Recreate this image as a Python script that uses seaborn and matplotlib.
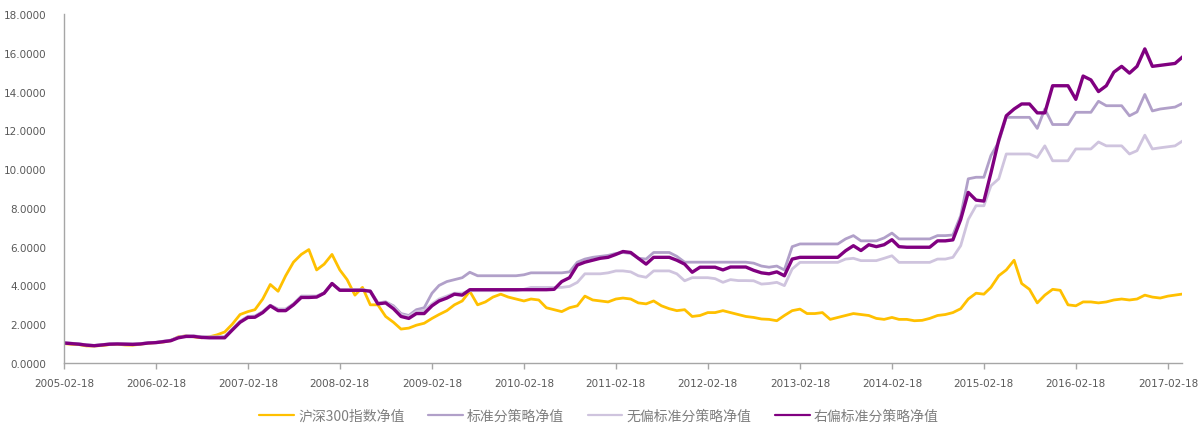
import numpy as np
import pandas as pd
import matplotlib
matplotlib.use("Agg")
import matplotlib.pyplot as plt
from matplotlib.ticker import FormatStrFormatter
import seaborn as sns

# ---------------- data (monthly readings, 18th of each month) ----------------
dates = pd.date_range("2005-02-01", "2017-04-01", freq="MS") + pd.Timedelta(days=17)

hs300 = [
    1.00, 0.97, 0.95, 0.88, 0.88, 0.90, 0.95, 0.97, 0.93, 0.92, 0.97,
    1.02, 1.05, 1.08, 1.15, 1.35, 1.40, 1.35, 1.30, 1.35, 1.45, 1.60, 2.00,
    2.50, 2.65, 2.75, 3.30, 4.05, 3.70, 4.50, 5.20, 5.60, 5.85, 4.80, 5.10,
    5.60, 4.80, 4.30, 3.50, 3.90, 3.00, 3.00, 2.40, 2.10, 1.75, 1.80, 1.95,
    2.05, 2.30, 2.50, 2.70, 3.00, 3.20, 3.70, 3.00, 3.15, 3.40, 3.55, 3.40,
    3.30, 3.20, 3.30, 3.25, 2.85, 2.75, 2.65, 2.85, 2.95, 3.45, 3.25, 3.20,
    3.15, 3.30, 3.35, 3.30, 3.10, 3.05, 3.20, 2.95, 2.80, 2.70, 2.75, 2.40,
    2.45, 2.60, 2.60, 2.70, 2.60, 2.50, 2.40, 2.35, 2.27, 2.25, 2.18, 2.45,
    2.70, 2.78, 2.55, 2.55, 2.60, 2.25, 2.35, 2.45, 2.55, 2.50, 2.45, 2.30,
    2.25, 2.35, 2.25, 2.25, 2.18, 2.20, 2.30, 2.45, 2.50, 2.60, 2.80, 3.30,
    3.60, 3.55, 3.90, 4.50, 4.80, 5.30, 4.10, 3.80, 3.10, 3.50, 3.80, 3.75,
    3.00, 2.95, 3.15, 3.15, 3.10, 3.15, 3.25, 3.30, 3.25, 3.30, 3.50, 3.40,
    3.35, 3.45, 3.50, 3.56,
]

standard = [
    1.05, 1.02, 0.99, 0.94, 0.91, 0.95, 0.99, 1.00, 0.99, 0.98, 1.00,
    1.05, 1.07, 1.12, 1.18, 1.33, 1.40, 1.40, 1.35, 1.35, 1.35, 1.36, 1.75,
    2.15, 2.40, 2.42, 2.65, 2.98, 2.78, 2.78, 3.05, 3.45, 3.45, 3.45, 3.62,
    4.10, 3.78, 3.78, 3.78, 3.78, 3.72, 3.10, 3.15, 2.95, 2.55, 2.45, 2.75,
    2.85, 3.60, 4.00, 4.20, 4.30, 4.40, 4.68, 4.50, 4.50, 4.50, 4.50, 4.50,
    4.50, 4.55, 4.65, 4.65, 4.65, 4.65, 4.65, 4.70, 5.20, 5.36, 5.45, 5.50,
    5.55, 5.65, 5.70, 5.65, 5.40, 5.36, 5.70, 5.70, 5.70, 5.50, 5.20, 5.20,
    5.20, 5.20, 5.20, 5.20, 5.20, 5.20, 5.20, 5.15, 5.00, 4.94, 5.00, 4.80,
    6.00, 6.14, 6.14, 6.14, 6.14, 6.14, 6.14, 6.40, 6.57, 6.30, 6.30, 6.30,
    6.45, 6.70, 6.40, 6.40, 6.40, 6.40, 6.40, 6.57, 6.57, 6.60, 7.60, 9.50,
    9.58, 9.58, 10.70, 11.40, 12.67, 12.67, 12.67, 12.67, 12.10, 13.10, 12.30, 12.30,
    12.30, 12.93, 12.93, 12.93, 13.50, 13.27, 13.27, 13.27, 12.75, 12.95, 13.85, 13.00,
    13.10, 13.15, 13.20, 13.40,
]

unbiased = [
    1.04, 1.01, 0.98, 0.93, 0.90, 0.94, 0.98, 0.99, 0.98, 0.97, 0.99,
    1.04, 1.06, 1.11, 1.17, 1.32, 1.39, 1.39, 1.34, 1.33, 1.33, 1.34, 1.73,
    2.13, 2.38, 2.40, 2.63, 2.97, 2.75, 2.75, 3.03, 3.42, 3.42, 3.43, 3.61,
    4.10, 3.77, 3.77, 3.77, 3.77, 3.71, 3.10, 3.15, 2.90, 2.50, 2.40, 2.65,
    2.70, 3.05, 3.30, 3.45, 3.60, 3.60, 3.73, 3.73, 3.73, 3.73, 3.73, 3.73,
    3.73, 3.80, 3.90, 3.90, 3.90, 3.90, 3.90, 3.95, 4.16, 4.60, 4.60, 4.60,
    4.65, 4.75, 4.75, 4.70, 4.50, 4.42, 4.75, 4.75, 4.75, 4.60, 4.24, 4.40,
    4.40, 4.40, 4.35, 4.16, 4.30, 4.25, 4.25, 4.24, 4.07, 4.10, 4.16, 3.99,
    4.85, 5.19, 5.19, 5.19, 5.19, 5.19, 5.19, 5.36, 5.40, 5.28, 5.28, 5.28,
    5.40, 5.53, 5.19, 5.19, 5.19, 5.19, 5.19, 5.36, 5.36, 5.45, 6.05, 7.40,
    8.11, 8.11, 9.14, 9.50, 10.78, 10.78, 10.78, 10.78, 10.60, 11.20, 10.43, 10.43,
    10.43, 11.04, 11.04, 11.04, 11.40, 11.20, 11.20, 11.20, 10.78, 10.95, 11.75, 11.04,
    11.10, 11.15, 11.20, 11.46,
]

right_skew = [
    1.03, 1.00, 0.97, 0.92, 0.89, 0.93, 0.97, 0.98, 0.97, 0.96, 0.98,
    1.03, 1.05, 1.10, 1.15, 1.30, 1.37, 1.37, 1.32, 1.30, 1.30, 1.30, 1.70,
    2.10, 2.35, 2.36, 2.60, 2.95, 2.70, 2.70, 3.00, 3.38, 3.38, 3.40, 3.60,
    4.10, 3.75, 3.75, 3.75, 3.75, 3.70, 3.05, 3.10, 2.80, 2.40, 2.30, 2.55,
    2.55, 2.95, 3.20, 3.35, 3.55, 3.50, 3.78, 3.78, 3.78, 3.78, 3.78, 3.78,
    3.78, 3.78, 3.78, 3.78, 3.78, 3.80, 4.20, 4.40, 5.05, 5.20, 5.30, 5.40,
    5.45, 5.60, 5.75, 5.70, 5.40, 5.10, 5.45, 5.45, 5.45, 5.30, 5.10, 4.68,
    4.94, 4.94, 4.94, 4.80, 4.95, 4.95, 4.95, 4.78, 4.65, 4.60, 4.70, 4.50,
    5.36, 5.45, 5.45, 5.45, 5.45, 5.45, 5.45, 5.79, 6.05, 5.80, 6.10, 6.00,
    6.10, 6.36, 6.00, 5.97, 5.97, 5.97, 5.97, 6.30, 6.30, 6.35, 7.40, 8.80,
    8.40, 8.35, 9.80, 11.50, 12.75, 13.10, 13.36, 13.36, 12.90, 12.90, 14.30, 14.30,
    14.30, 13.60, 14.80, 14.60, 14.00, 14.30, 15.00, 15.30, 14.95, 15.30, 16.20, 15.30,
    15.35, 15.40, 15.45, 15.80,
]

labels = ["沪深300指数净值", "标准分策略净值", "无偏标准分策略净值", "右偏标准分策略净值"]
series = [hs300, standard, unbiased, right_skew]
y_ticks = [0, 2, 4, 6, 8, 10, 12, 14, 16, 18]
x_tick_labels = ["2005-02-18", "2006-02-18", "2007-02-18", "2008-02-18", "2009-02-18",
                 "2010-02-18", "2011-02-18", "2012-02-18", "2013-02-18", "2014-02-18",
                 "2015-02-18", "2016-02-18", "2017-02-18"]

# ---------------- styling ----------------
sns.set_style("white")
plt.rcParams["font.family"] = ["Noto Sans CJK SC", "DejaVu Sans"]

colors = ["#FFC000", "#B1A0C9", "#CFC4DE", "#800080"]
widths = [2.0, 2.0, 2.0, 2.4]

fig = plt.figure(figsize=(12.03, 4.27), dpi=100)
ax = fig.add_axes([64 / 1203, 1 - 364 / 427, (1182 - 64) / 1203, (364 - 15) / 427])

for lab, vals, c, w in zip(labels, series, colors, widths):
    df = pd.DataFrame({"date": dates, "value": vals})
    sns.lineplot(data=df, x="date", y="value", ax=ax, color=c, linewidth=w, label=lab)

start = pd.Timestamp("2005-02-18")
ax.set_xlim(start, start + pd.Timedelta(days=1118 / 92 * 365.25))
ax.set_ylim(0, 18)
ax.set_yticks(y_ticks)
ax.yaxis.set_major_formatter(FormatStrFormatter("%.4f"))
ax.set_xticks(pd.to_datetime(x_tick_labels))
ax.set_xticklabels(x_tick_labels)
ax.set_xlabel("")
ax.set_ylabel("")

for side in ["top", "right"]:
    ax.spines[side].set_visible(False)
for side in ["left", "bottom"]:
    ax.spines[side].set_color("#A6A6A6")
    ax.spines[side].set_linewidth(1.0)

ax.tick_params(axis="x", which="both", bottom=True, length=4, width=1.0,
               color="#A6A6A6", labelsize=7.5, labelcolor="#595959", pad=7)
ax.tick_params(axis="y", left=False, length=0, labelsize=7.5,
               labelcolor="#595959", pad=13)
for t in ax.get_xticklabels() + ax.get_yticklabels():
    t.set_family("DejaVu Sans")

handles, labs = ax.get_legend_handles_labels()
ax.legend_.remove()
leg = fig.legend(handles, labs, loc="center", bbox_to_anchor=(599 / 1203, 1 - 417 / 427),
                 ncol=4, frameon=False, fontsize=10, handlelength=2.5,
                 handletextpad=0.3, columnspacing=1.7)
for h in leg.get_lines():
    h.set_linewidth(1.6)
for t in leg.get_texts():
    t.set_color("#7F7F7F")

fig.savefig("out.png", dpi=100)
